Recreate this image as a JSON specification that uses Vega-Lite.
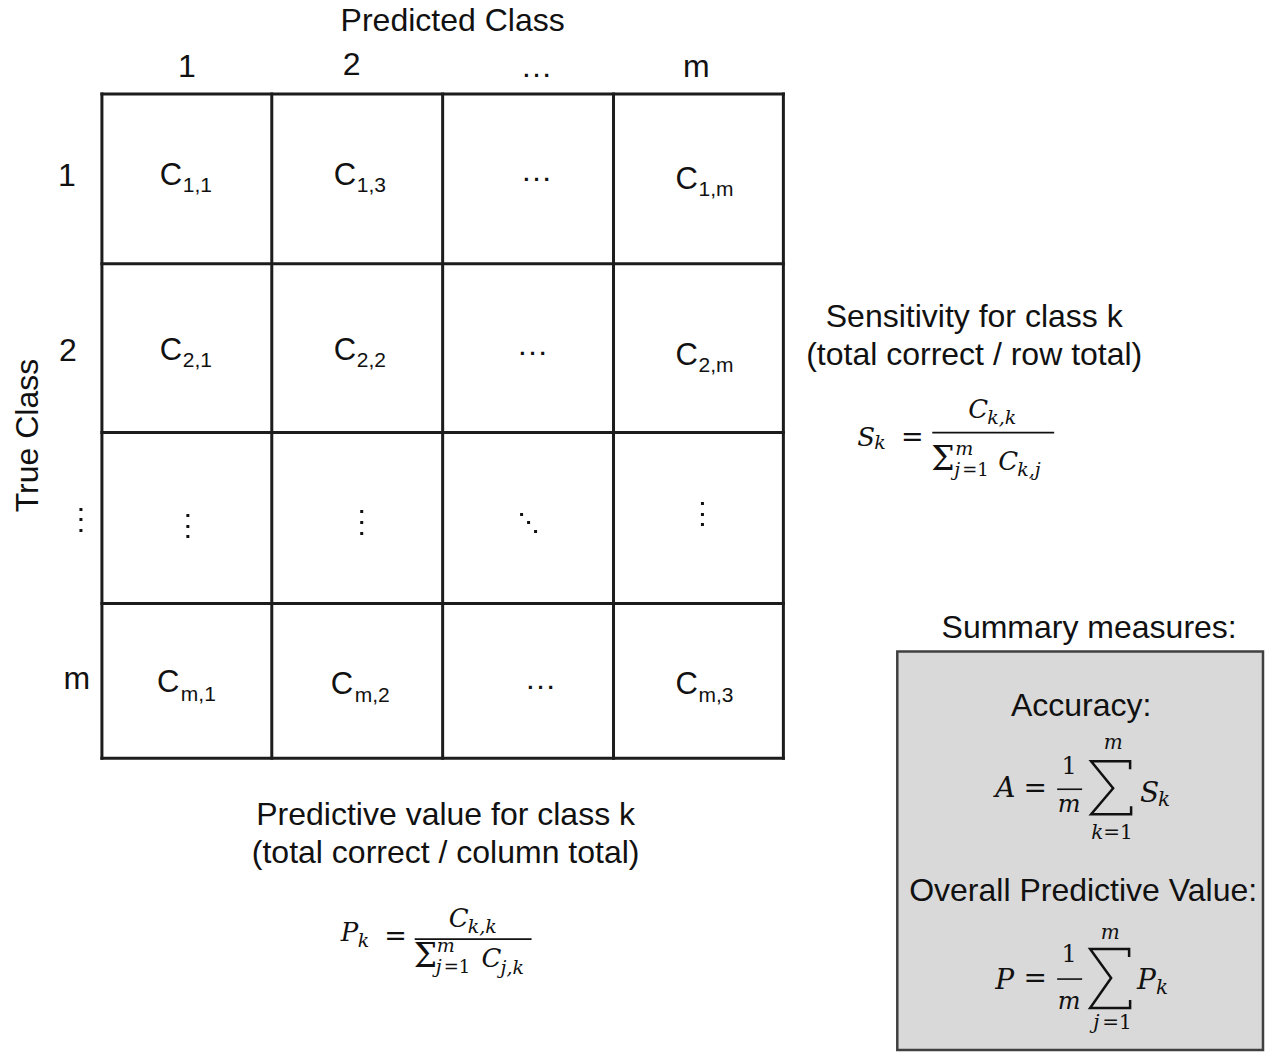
{
  "$schema": "https://vega.github.io/schema/vega-lite/v6.json",
  "width": 1265,
  "height": 1052,
  "padding": 0,
  "autosize": {"type": "fit", "contains": "padding"},
  "background": "white",
  "config": {"view": {"stroke": null}},
  "encoding": {
    "x": {"field": "x", "type": "quantitative", "axis": null, "scale": {"domain": [0, 1265], "nice": false, "zero": false}},
    "y": {"field": "y", "type": "quantitative", "axis": null, "scale": {"domain": [0, 1052], "nice": false, "zero": false, "reverse": true}}
  },
  "layer": [
    {
      "data": {"values": [{"x": 898, "y": 652, "x2": 1264, "y2": 1051}]},
      "mark": {"type": "rect", "fill": "#d9d9d9", "stroke": "#404040", "strokeWidth": 2.5},
      "encoding": {"x2": {"field": "x2"}, "y2": {"field": "y2"}}
    },
    {
      "data": {"values": [
        {"x": 102, "y": 94, "x2": 102, "y2": 759},
        {"x": 272, "y": 94, "x2": 272, "y2": 759},
        {"x": 443, "y": 94, "x2": 443, "y2": 759},
        {"x": 614, "y": 94, "x2": 614, "y2": 759},
        {"x": 784, "y": 94, "x2": 784, "y2": 759},
        {"x": 102, "y": 94, "x2": 784, "y2": 94},
        {"x": 102, "y": 264, "x2": 784, "y2": 264},
        {"x": 102, "y": 433, "x2": 784, "y2": 433},
        {"x": 102, "y": 604, "x2": 784, "y2": 604},
        {"x": 102, "y": 759, "x2": 784, "y2": 759}
      ]},
      "mark": {"type": "rule", "color": "#1c1c1c", "strokeWidth": 3, "strokeCap": "square"},
      "encoding": {"x2": {"field": "x2"}, "y2": {"field": "y2"}}
    },
    {
      "data": {"values": [
        {"x": 933, "y": 433, "x2": 1055, "y2": 433},
        {"x": 415, "y": 940, "x2": 532, "y2": 940},
        {"x": 1058, "y": 790, "x2": 1083, "y2": 790},
        {"x": 1058, "y": 980, "x2": 1083, "y2": 980}
      ]},
      "mark": {"type": "rule", "color": "#111111", "strokeWidth": 1.6},
      "encoding": {"x2": {"field": "x2"}, "y2": {"field": "y2"}}
    },
    {
      "data": {"values": [
        {"id": "A", "o": 0, "x": 1131, "y": 770},
        {"id": "A", "o": 1, "x": 1131, "y": 762},
        {"id": "A", "o": 2, "x": 1092, "y": 762},
        {"id": "A", "o": 3, "x": 1114, "y": 789},
        {"id": "A", "o": 4, "x": 1092, "y": 815},
        {"id": "A", "o": 5, "x": 1132, "y": 815},
        {"id": "A", "o": 6, "x": 1132, "y": 807},
        {"id": "P", "o": 0, "x": 1130, "y": 958},
        {"id": "P", "o": 1, "x": 1130, "y": 950},
        {"id": "P", "o": 2, "x": 1091, "y": 950},
        {"id": "P", "o": 3, "x": 1112, "y": 979},
        {"id": "P", "o": 4, "x": 1091, "y": 1009},
        {"id": "P", "o": 5, "x": 1131, "y": 1009},
        {"id": "P", "o": 6, "x": 1131, "y": 1001}
      ]},
      "mark": {"type": "line", "color": "#111111", "strokeWidth": 2.5, "strokeJoin": "miter"},
      "encoding": {"detail": {"field": "id"}, "order": {"field": "o", "type": "quantitative"}}
    },
    {
      "data": {"values": [
        {"x": 81, "y": 510}, {"x": 81, "y": 520}, {"x": 81, "y": 531},
        {"x": 188, "y": 516}, {"x": 188, "y": 527}, {"x": 188, "y": 537},
        {"x": 362, "y": 512}, {"x": 362, "y": 523}, {"x": 362, "y": 534},
        {"x": 522, "y": 515}, {"x": 529, "y": 523}, {"x": 536, "y": 532},
        {"x": 703, "y": 504}, {"x": 703, "y": 515}, {"x": 703, "y": 525}
      ]},
      "mark": {"type": "point", "shape": "square", "size": 9, "filled": true, "color": "#111111", "opacity": 1}
    },
    {
      "data": {"values": [
        {"x": 453, "y": 31, "t": "Predicted Class"},
        {"x": 187, "y": 77, "t": "1"},
        {"x": 352, "y": 75, "t": "2"},
        {"x": 537, "y": 77, "t": "…"},
        {"x": 697, "y": 77, "t": "m"},
        {"x": 67, "y": 186, "t": "1"},
        {"x": 68, "y": 361, "t": "2"},
        {"x": 77, "y": 690, "t": "m"},
        {"x": 537, "y": 181, "t": "…"},
        {"x": 533, "y": 355, "t": "…"},
        {"x": 541, "y": 690, "t": "…"},
        {"x": 975, "y": 327, "t": "Sensitivity for class k"},
        {"x": 975, "y": 365, "t": "(total correct / row total)"},
        {"x": 446, "y": 826, "t": "Predictive value for class k"},
        {"x": 446, "y": 864, "t": "(total correct / column total)"},
        {"x": 1090, "y": 639, "t": "Summary measures:"},
        {"x": 1082, "y": 717, "t": "Accuracy:"},
        {"x": 1084, "y": 902, "t": "Overall Predictive Value:"}
      ]},
      "mark": {"type": "text", "font": "Liberation Sans", "fontSize": 32, "align": "center", "baseline": "alphabetic", "color": "#111111"},
      "encoding": {"text": {"field": "t"}}
    },
    {
      "data": {"values": [{"x": 38, "y": 436, "t": "True Class"}]},
      "mark": {"type": "text", "font": "Liberation Sans", "fontSize": 32, "align": "center", "baseline": "alphabetic", "angle": 270, "color": "#111111"},
      "encoding": {"text": {"field": "t"}}
    },
    {
      "data": {"values": [
        {"x": 160, "y": 185, "t": "C"}, {"x": 334, "y": 185, "t": "C"}, {"x": 676, "y": 189, "t": "C"},
        {"x": 160, "y": 360, "t": "C"}, {"x": 334, "y": 360, "t": "C"}, {"x": 676, "y": 365, "t": "C"},
        {"x": 157, "y": 693, "t": "C"}, {"x": 331, "y": 695, "t": "C"}, {"x": 676, "y": 695, "t": "C"}
      ]},
      "mark": {"type": "text", "font": "Liberation Sans", "fontSize": 31, "align": "left", "baseline": "alphabetic", "color": "#111111"},
      "encoding": {"text": {"field": "t"}}
    },
    {
      "data": {"values": [
        {"x": 183, "y": 192, "t": "1,1"}, {"x": 357, "y": 192, "t": "1,3"}, {"x": 699, "y": 196, "t": "1,m"},
        {"x": 183, "y": 367, "t": "2,1"}, {"x": 357, "y": 367, "t": "2,2"}, {"x": 699, "y": 372, "t": "2,m"},
        {"x": 181, "y": 702, "t": "m,1"}, {"x": 355, "y": 703, "t": "m,2"}, {"x": 699, "y": 703, "t": "m,3"}
      ]},
      "mark": {"type": "text", "font": "Liberation Sans", "fontSize": 21, "align": "left", "baseline": "alphabetic", "color": "#111111"},
      "encoding": {"text": {"field": "t"}}
    },
    {
      "data": {"values": [
        {"x": 858, "y": 446, "t": "S"}, {"x": 969, "y": 418, "t": "C"}, {"x": 999, "y": 470, "t": "C"},
        {"x": 341, "y": 942, "t": "P"}, {"x": 449, "y": 928, "t": "C"}, {"x": 482, "y": 968, "t": "C"}
      ]},
      "mark": {"type": "text", "font": "DejaVu Serif", "fontStyle": "italic", "fontSize": 26, "align": "left", "baseline": "alphabetic", "color": "#111111"},
      "encoding": {"text": {"field": "t"}}
    },
    {
      "data": {"values": [
        {"x": 875, "y": 449, "t": "k"}, {"x": 988, "y": 424, "t": "k,k"}, {"x": 956, "y": 455, "t": "m"},
        {"x": 955, "y": 476, "t": "j"}, {"x": 1018, "y": 476, "t": "k,j"},
        {"x": 358, "y": 948, "t": "k"}, {"x": 468, "y": 934, "t": "k,k"}, {"x": 437, "y": 953, "t": "m"},
        {"x": 436, "y": 974, "t": "j"}, {"x": 501, "y": 975, "t": "j,k"}
      ]},
      "mark": {"type": "text", "font": "DejaVu Serif", "fontStyle": "italic", "fontSize": 19, "align": "left", "baseline": "alphabetic", "color": "#111111"},
      "encoding": {"text": {"field": "t"}}
    },
    {
      "data": {"values": [{"x": 963, "y": 476, "t": "=1"}, {"x": 444, "y": 974, "t": "=1"}]},
      "mark": {"type": "text", "font": "DejaVu Serif", "fontSize": 18, "align": "left", "baseline": "alphabetic", "color": "#111111"},
      "encoding": {"text": {"field": "t"}}
    },
    {
      "data": {"values": [{"x": 913, "y": 446, "t": "="}, {"x": 396, "y": 946, "t": "="}]},
      "mark": {"type": "text", "font": "DejaVu Serif", "fontSize": 27, "align": "center", "baseline": "alphabetic", "color": "#111111"},
      "encoding": {"text": {"field": "t"}}
    },
    {
      "data": {"values": [{"x": 932, "y": 470, "t": "Σ"}, {"x": 414, "y": 968, "t": "Σ"}]},
      "mark": {"type": "text", "font": "DejaVu Serif", "fontSize": 33, "align": "left", "baseline": "alphabetic", "color": "#111111"},
      "encoding": {"text": {"field": "t"}}
    },
    {
      "data": {"values": [
        {"x": 996, "y": 798, "t": "A"}, {"x": 1141, "y": 803, "t": "S"},
        {"x": 996, "y": 990, "t": "P"}, {"x": 1138, "y": 990, "t": "P"}
      ]},
      "mark": {"type": "text", "font": "DejaVu Serif", "fontStyle": "italic", "fontSize": 28, "align": "left", "baseline": "alphabetic", "color": "#111111"},
      "encoding": {"text": {"field": "t"}}
    },
    {
      "data": {"values": [{"x": 1036, "y": 798, "t": "="}, {"x": 1036, "y": 988, "t": "="}]},
      "mark": {"type": "text", "font": "DejaVu Serif", "fontSize": 28, "align": "center", "baseline": "alphabetic", "color": "#111111"},
      "encoding": {"text": {"field": "t"}}
    },
    {
      "data": {"values": [{"x": 1070, "y": 775, "t": "1"}, {"x": 1070, "y": 963, "t": "1"}]},
      "mark": {"type": "text", "font": "DejaVu Serif", "fontSize": 24, "align": "center", "baseline": "alphabetic", "color": "#111111"},
      "encoding": {"text": {"field": "t"}}
    },
    {
      "data": {"values": [{"x": 1070, "y": 813, "t": "m"}, {"x": 1070, "y": 1010, "t": "m"}]},
      "mark": {"type": "text", "font": "DejaVu Serif", "fontStyle": "italic", "fontSize": 24, "align": "center", "baseline": "alphabetic", "color": "#111111"},
      "encoding": {"text": {"field": "t"}}
    },
    {
      "data": {"values": [{"x": 1114, "y": 750, "t": "m"}, {"x": 1111, "y": 940, "t": "m"}]},
      "mark": {"type": "text", "font": "DejaVu Serif", "fontStyle": "italic", "fontSize": 20, "align": "center", "baseline": "alphabetic", "color": "#111111"},
      "encoding": {"text": {"field": "t"}}
    },
    {
      "data": {"values": [
        {"x": 1092, "y": 840, "t": "k"}, {"x": 1094, "y": 1030, "t": "j"},
        {"x": 1159, "y": 807, "t": "k"}, {"x": 1157, "y": 995, "t": "k"}
      ]},
      "mark": {"type": "text", "font": "DejaVu Serif", "fontStyle": "italic", "fontSize": 20, "align": "left", "baseline": "alphabetic", "color": "#111111"},
      "encoding": {"text": {"field": "t"}}
    },
    {
      "data": {"values": [{"x": 1104, "y": 840, "t": "=1"}, {"x": 1103, "y": 1030, "t": "=1"}]},
      "mark": {"type": "text", "font": "DejaVu Serif", "fontSize": 20, "align": "left", "baseline": "alphabetic", "color": "#111111"},
      "encoding": {"text": {"field": "t"}}
    }
  ]
}
